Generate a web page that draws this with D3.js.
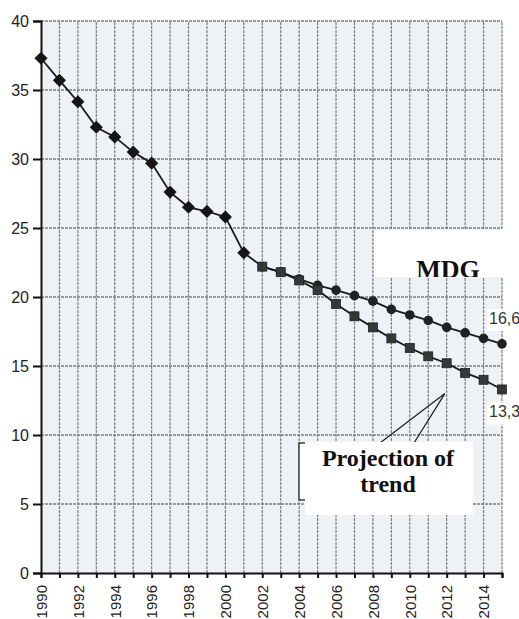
<!DOCTYPE html>
<html><head><meta charset="utf-8">
<script src="https://cdn.jsdelivr.net/npm/d3@7"></script>
<style>html,body{margin:0;padding:0;background:#fff}svg{display:block}</style>
</head><body>
<svg id="chart" width="519" height="619"></svg>
<script>
const histYears = [1990,1991,1992,1993,1994,1995,1996,1997,1998,1999,2000,2001,2002];
const histValues = [37.3,35.7,34.15,32.3,31.6,30.5,29.7,27.6,26.5,26.2,25.8,23.2,22.2];
const projYears = [2002,2003,2004,2005,2006,2007,2008,2009,2010,2011,2012,2013,2014,2015];
const mdgValues = [22.2,21.8,21.3,20.85,20.5,20.1,19.7,19.1,18.7,18.3,17.8,17.4,17.0,16.6];
const trendValues = [22.2,21.8,21.2,20.5,19.5,18.6,17.8,17.0,16.3,15.7,15.2,14.5,14.0,13.3];
const yTicks = [0,5,10,15,20,25,30,35,40];
const xLabelYears = [1990,1992,1994,1996,1998,2000,2002,2004,2006,2008,2010,2012,2014];
const endLabels = ["16,6","13,3"];
const calloutLines = ["Projection of","trend"];
const mdgLabel = "MDG";

const svg = d3.select("#chart");
const x = d3.scaleLinear().domain([1990,2015]).range([41,502]);
const y = d3.scaleLinear().domain([0,40]).range([573,21]);

// plot background
svg.append("rect").attr("x",x(1990)).attr("y",y(40)).attr("width",x(2015)-x(1990)).attr("height",y(0)-y(40)).attr("fill","#eef2f7");

// grid
const years = d3.range(1991,2016);
svg.append("g").selectAll("line").data(years).join("line")
  .attr("x1",d=>x(d)).attr("x2",d=>x(d)).attr("y1",y(0)).attr("y2",y(40))
  .attr("stroke","#7d7d7d").attr("stroke-width",1.2).attr("stroke-dasharray","3,1");
svg.append("g").selectAll("line").data(yTicks.filter(d=>d>0)).join("line")
  .attr("x1",x(1990)).attr("x2",x(2015)).attr("y1",d=>y(d)).attr("y2",d=>y(d))
  .attr("stroke","#7d7d7d").attr("stroke-width",1.4).attr("stroke-dasharray","3,1");

// axes
const yAxis = d3.axisLeft(y).tickValues(yTicks).tickSize(8).tickPadding(4);
const gy = svg.append("g").attr("transform",`translate(${x(1990)},0)`).call(yAxis);
gy.select(".domain").attr("stroke","#111").attr("stroke-width",2);
gy.selectAll(".tick line").attr("stroke","#111").attr("stroke-width",2);
gy.selectAll("text").attr("font-family","Liberation Sans, Arial, sans-serif").attr("font-size",16).attr("fill","#222");

const xAxis = d3.axisBottom(x).tickValues(d3.range(1990,2016)).tickSize(5).tickFormat(d=>xLabelYears.includes(d)?String(d):"");
const gx = svg.append("g").attr("transform",`translate(0,${y(0)})`).call(xAxis);
gx.select(".domain").attr("stroke","#111").attr("stroke-width",2);
gx.selectAll(".tick line").attr("stroke","#111").attr("stroke-width",2);
gx.selectAll("text").attr("font-family","Liberation Sans, Arial, sans-serif").attr("font-size",15).attr("fill","#222")
  .attr("transform","rotate(-90)").attr("text-anchor","end").attr("x",-12).attr("y",0).attr("dy","0.35em");

// lines
const line = d3.line().x(d=>x(d[0])).y(d=>y(d[1]));
const hist = histYears.map((d,i)=>[d,histValues[i]]);
const mdg = projYears.map((d,i)=>[d,mdgValues[i]]);
const trend = projYears.map((d,i)=>[d,trendValues[i]]);
[trend, mdg, hist].forEach(s=>{
  svg.append("path").datum(s).attr("d",line).attr("fill","none").attr("stroke","#1a1a1a").attr("stroke-width",1.8);
});
// markers
svg.append("g").selectAll("path").data(hist.slice(0,-1)).join("path")
  .attr("d",d3.symbol(d3.symbolDiamond2 || d3.symbolDiamond,110))
  .attr("transform",d=>`translate(${x(d[0])},${y(d[1])})`).attr("fill","#151515");
svg.append("g").selectAll("circle").data(mdg).join("circle")
  .attr("cx",d=>x(d[0])).attr("cy",d=>y(d[1])).attr("r",4.8).attr("fill","#1e2220");
svg.append("g").selectAll("rect").data(trend).join("rect")
  .attr("x",d=>x(d[0])-4.5).attr("y",d=>y(d[1])-4.5).attr("width",9).attr("height",9)
  .attr("fill","#343836").attr("stroke","#222").attr("stroke-width",0.8);

// MDG white box + label (clipped at bottom)
svg.append("defs").append("clipPath").attr("id","mdgclip").append("rect")
  .attr("x",374).attr("y",230).attr("width",145).attr("height",47);
svg.append("rect").attr("x",374).attr("y",230).attr("width",145).attr("height",47).attr("fill","#fff");
svg.append("text").attr("clip-path","url(#mdgclip)").attr("x",448).attr("y",278).attr("text-anchor","middle")
  .attr("font-family","Liberation Serif, Times New Roman, serif").attr("font-weight","bold").attr("font-size",26)
  .attr("fill","#111").text(mdgLabel);

// end labels
const endPts = [mdg[mdg.length-1], trend[trend.length-1]];
const endOff = [-20, 28];
endPts.forEach((p,i)=>{
  const ty = y(p[1]) + endOff[i];
  svg.append("rect").attr("x",487).attr("y",ty-15).attr("width",32).attr("height",22).attr("fill","#fff");
  svg.append("text").attr("x",489).attr("y",ty).attr("font-family","Liberation Sans, Arial, sans-serif")
    .attr("font-size",16).attr("fill","#333").text(endLabels[i]);
});

// callout
const tip = [x(2011.9), y(13.0)];
svg.append("path").attr("d",`M380,443 L${tip[0]},${tip[1]} L414,443`).attr("fill","none").attr("stroke","#222").attr("stroke-width",1.3);
svg.append("rect").attr("x",299).attr("y",443).attr("width",140).attr("height",57).attr("fill","#fff").attr("stroke","#222").attr("stroke-width",1.3);
svg.append("rect").attr("x",305).attr("y",442).attr("width",168).attr("height",73).attr("fill","#fff");
calloutLines.forEach((t,i)=>{
  svg.append("text").attr("x",388).attr("y",466+i*26).attr("text-anchor","middle")
    .attr("font-family","Liberation Serif, Times New Roman, serif").attr("font-weight","bold").attr("font-size",24)
    .attr("fill","#111").text(t);
});
</script>
</body></html>
